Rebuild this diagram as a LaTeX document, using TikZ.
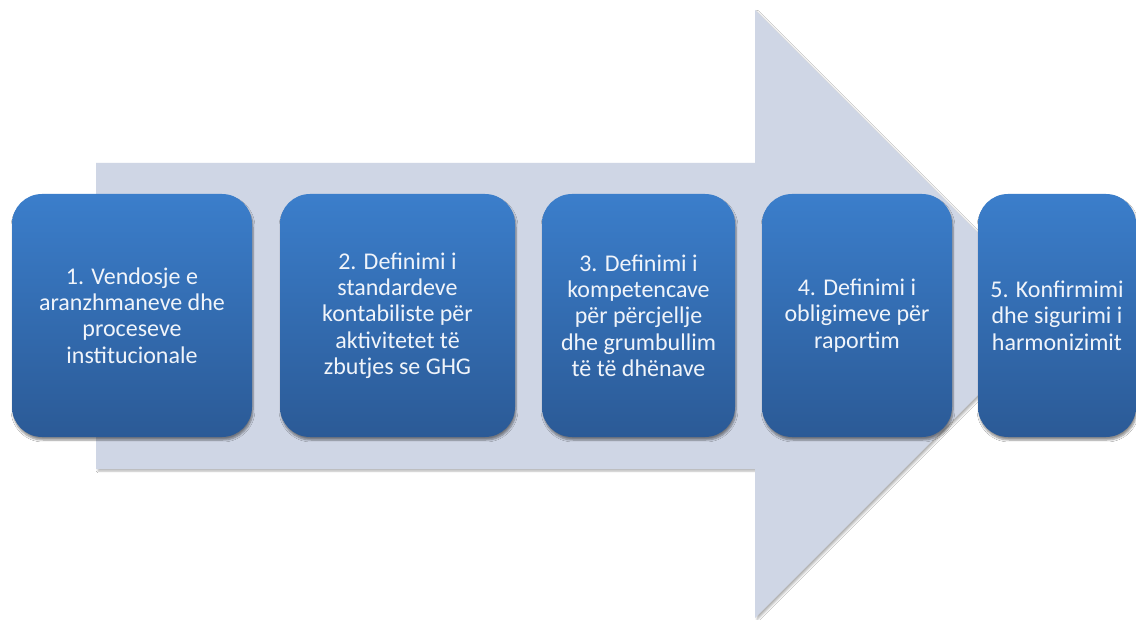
\documentclass[tikz,border=0pt]{standalone}
\usepackage{fontspec}
\setmainfont{Carlito}
\usetikzlibrary{shadows.blur}
\definecolor{arrowfill}{RGB}{207,214,229}
\definecolor{boxtop}{RGB}{59,126,203}
\definecolor{boxbot}{RGB}{43,90,150}
\definecolor{boxtext}{RGB}{240,244,250}
\begin{document}
\begin{tikzpicture}[x=1pt,y=-1pt,
  stepbox/.style={rectangle, rounded corners=30pt, top color=boxtop, bottom color=boxbot,
    draw=none, text=boxtext, align=center, font=\fontsize{24}{26.3}\selectfont,
    inner sep=0pt, minimum height=243pt,
    blur shadow={shadow xshift=1pt, shadow yshift=-3pt, shadow opacity=45, shadow blur steps=6}},
  bigarrow/.style={fill=arrowfill,
    blur shadow={shadow xshift=2pt, shadow yshift=-2pt, shadow opacity=30, shadow blur steps=5}}
]
\useasboundingbox (0,0) rectangle (1136,620);
\fill[white] (0,0) rectangle (1136,620);
\path[bigarrow] (96,163) -- (755,163) -- (755,10) -- (1059,314) -- (755,618) -- (755,469) -- (96,469) -- cycle;

\node[stepbox, minimum width=240pt] (s1) at (132,315.5)
  {1. Vendosje e\\aranzhmaneve dhe\\proceseve\\institucionale};
\node[stepbox, minimum width=235pt] (s2) at (397.5,315.5)
  {2. Definimi i\\standardeve\\kontabiliste për\\aktivitetet të\\zbutjes se GHG};
\node[stepbox, minimum width=193pt] (s3) at (638.5,315.5)
  {3. Definimi i\\kompetencave\\për përcjellje\\dhe grumbullim\\të të dhënave};
\node[stepbox, minimum width=190pt] (s4) at (857,315.5)
  {4. Definimi i\\obligimeve për\\raportim};
\node[stepbox, minimum width=158pt] (s5) at (1057,315.5)
  {5. Konfirmimi\\dhe sigurimi i\\harmonizimit};
\end{tikzpicture}
\end{document}
